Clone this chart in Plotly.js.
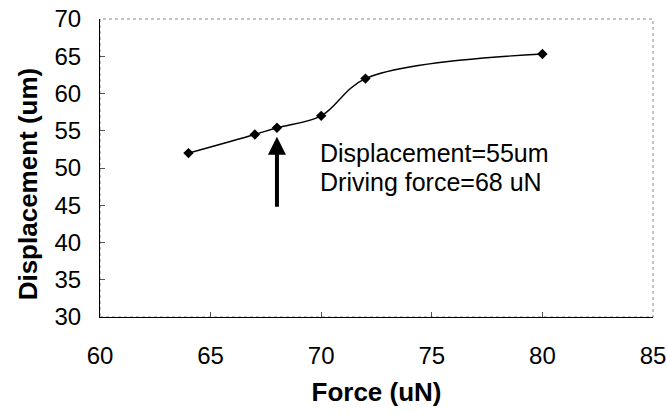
<!DOCTYPE html>
<html>
<head>
<meta charset="utf-8">
<script src="https://cdn.plot.ly/plotly-3.0.1.min.js"></script>
<style>
  html, body { margin: 0; padding: 0; background: #fff; }
  #chart { width: 667px; height: 413px; }
</style>
</head>
<body>
<div id="chart"></div>
<script>
// Measured displacement versus applied driving force
const force = [64, 67, 68, 70, 72, 80];
const displacement = [52.0, 54.5, 55.4, 57.0, 62.0, 65.3];

// Highlighted operating point and arrow tail
const markForce = 68;
const markTip = 54.2;
const markTail = 44.6;

const xTicks = [60, 65, 70, 75, 80, 85];
const yTicks = [30, 35, 40, 45, 50, 55, 60, 65, 70];

const noteLines = ['Displacement=55um', 'Driving force=68 uN'];
const noteY = [52.0, 48.1];

const FONT = 'Liberation Sans, Arial, Helvetica, sans-serif';

const trace = {
  x: force,
  y: displacement,
  type: 'scatter',
  mode: 'lines+markers',
  line: { color: '#000', width: 1.4, shape: 'spline', smoothing: 1 },
  marker: { symbol: 'diamond', size: 8, color: '#000' },
  hoverinfo: 'x+y'
};

const noteAnnotations = noteLines.map((t, i) => ({
  x: 70, y: noteY[i], xref: 'x', yref: 'y',
  xanchor: 'left', yanchor: 'middle', align: 'left',
  xshift: -3,
  text: t,
  showarrow: false,
  font: { family: FONT, size: 25, color: '#000' }
}));

const layout = {
  width: 667,
  height: 413,
  margin: { l: 100, r: 14, t: 19, b: 96 },
  paper_bgcolor: '#fff',
  plot_bgcolor: '#fff',
  showlegend: false,
  font: { family: FONT, color: '#000', size: 24 },
  xaxis: {
    range: [60, 85],
    tickvals: xTicks,
    ticktext: xTicks.map(String),
    ticks: 'inside',
    ticklen: 5,
    tickcolor: '#555',
    showline: true,
    linecolor: '#000',
    linewidth: 1,
    showgrid: false,
    zeroline: false,
    ticklabelstandoff: 17,
    tickfont: { family: FONT, size: 24, color: '#000' },
    title: {
      text: '<b>Force (uN)</b>',
      font: { family: FONT, size: 26, color: '#000' },
      standoff: 15
    }
  },
  yaxis: {
    range: [30, 70],
    tickvals: yTicks,
    ticktext: yTicks.map(String),
    ticks: 'inside',
    ticklen: 5,
    tickcolor: '#555',
    showline: true,
    linecolor: '#000',
    linewidth: 1,
    showgrid: false,
    zeroline: false,
    ticklabelstandoff: 13,
    tickfont: { family: FONT, size: 24, color: '#000' }
  },
  shapes: [
    {
      type: 'rect', xref: 'paper', yref: 'paper',
      x0: 0, x1: 1, y0: 0, y1: 1,
      line: { color: '#888', width: 1, dash: 'dot' },
      layer: 'below'
    }
  ],
  annotations: [
    {
      // arrow pointing at the operating point
      x: markForce, y: markTip, ax: markForce, ay: markTail,
      xref: 'x', yref: 'y', axref: 'x', ayref: 'y',
      text: '', showarrow: true,
      arrowhead: 2, arrowsize: 0.9, arrowwidth: 4, arrowcolor: '#000'
    },
    ...noteAnnotations,
    {
      x: -0.131, y: 0.447, xref: 'paper', yref: 'paper',
      xanchor: 'center', yanchor: 'middle',
      textangle: -90,
      text: '<b>Displacement (um)</b>',
      showarrow: false,
      font: { family: FONT, size: 26, color: '#000' }
    }
  ]
};

Plotly.newPlot('chart', [trace], layout, { staticPlot: true, displayModeBar: false });
</script>
</body>
</html>
